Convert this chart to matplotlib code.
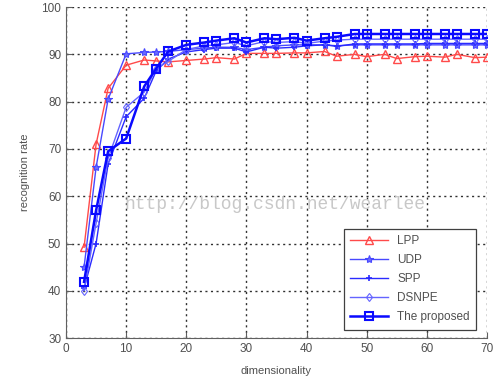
import matplotlib
matplotlib.use('Agg')
import matplotlib.pyplot as plt

###########                 Data                 ###########
#----------------------------------------------------------#
dims = [3, 5, 7, 10, 13, 15, 17, 20, 23, 25, 28, 30, 33, 35,
        38, 40, 43, 45, 48, 50, 53, 55, 58, 60, 63, 65, 68, 70]

lpp = [49.2, 71.0, 82.8, 87.7, 88.8, 88.6, 88.4, 88.7, 89.0, 89.3, 89.0, 90.2, 90.2, 90.2,
       90.3, 90.3, 90.6, 89.6, 90.0, 89.5, 90.0, 89.1, 89.5, 89.6, 89.4, 90.0, 89.3, 89.4]
udp = [45.0, 66.1, 80.5, 90.1, 90.4, 90.5, 90.6, 91.0, 91.3, 91.5, 91.5, 91.0, 91.5, 91.8,
       92.0, 92.0, 92.0, 91.8, 92.0, 92.0, 92.0, 92.0, 92.0, 92.0, 92.0, 92.0, 92.0, 92.0]
spp = [40.5, 50.0, 66.8, 76.8, 80.7, 86.5, 89.0, 90.5, 91.0, 91.3, 91.3, 90.5, 91.5, 91.3,
       91.5, 91.8, 92.0, 91.7, 92.2, 92.2, 92.2, 92.2, 92.2, 92.3, 92.3, 92.3, 92.3, 92.3]
dsnpe = [40.0, 54.3, 68.0, 78.8, 82.0, 87.0, 88.5, 91.0, 91.8, 92.0, 92.5, 91.8, 92.7, 92.5,
         92.7, 92.3, 92.8, 93.0, 93.2, 93.2, 93.2, 93.2, 93.2, 93.2, 93.2, 93.2, 93.2, 93.2]
proposed = [41.9, 57.0, 69.5, 72.2, 83.2, 87.0, 90.6, 92.0, 92.5, 92.9, 93.4, 92.5, 93.4, 93.2,
            93.5, 92.9, 93.4, 93.7, 94.3, 94.3, 94.3, 94.3, 94.3, 94.3, 94.3, 94.3, 94.3, 94.3]

xticks = [0, 10, 20, 30, 40, 50, 60, 70]
yticks = [30, 40, 50, 60, 70, 80, 90, 100]

###########               Settings               ###########
#----------------------------------------------------------#
plt.rcParams['font.family'] = ['Liberation Sans', 'DejaVu Sans']
txt = '#505050'

fig = plt.figure(figsize=(5.04, 3.9), dpi=100)
ax = fig.add_axes([0.131, 0.133, 0.835, 0.849])

ax.plot(dims, lpp, color='#ff4a4a', lw=1.0, marker='^', ms=5.5, mfc='none', mew=1.0, label='LPP')
ax.plot(dims, udp, color='#4848ff', lw=1.0, marker='*', ms=6, mfc='#6a6aff', mew=0.8, label='UDP')
ax.plot(dims, spp, color='#2a2aff', lw=1.0, marker='+', ms=5, mew=1.2, label='SPP')
ax.plot(dims, dsnpe, color='#6464ff', lw=1.0, marker='d', ms=4.5, mfc='none', mew=0.8, label='DSNPE')
ax.plot(dims, proposed, color='#0a0aff', lw=1.8, marker='s', ms=6, mfc='none', mew=1.5, label='The proposed')

ax.set_xlim(0, 70)
ax.set_ylim(30, 100)
ax.set_xticks(xticks)
ax.set_yticks(yticks)
ax.grid(color='#303030', linestyle=(0, (1.5, 2.5)), linewidth=1.0)
ax.tick_params(direction='in', length=4, labelsize=8.5, colors='#606060', labelcolor=txt)

for side in ['top', 'right']:
    ax.spines[side].set_visible(False)
for side in ['left', 'bottom']:
    ax.spines[side].set_color('#606060')

ax.set_xlabel('dimensionality', fontsize=8, color=txt, labelpad=8)
ax.set_ylabel('recognition rate', fontsize=8, color=txt, labelpad=8)

leg = ax.legend(loc='lower right', bbox_to_anchor=(0.975, 0.025), fontsize=8.5,
                fancybox=False, framealpha=1, edgecolor='#404040', handlelength=3.2,
                borderaxespad=0, labelspacing=0.6, borderpad=0.55)
leg.get_frame().set_linewidth(0.9)
for t in leg.get_texts():
    t.set_color(txt)

# watermark
fig.text(0.546, 0.475, 'http://blog.csdn.net/wearlee', fontsize=13, color='#c8c8c8',
         family='Liberation Mono', ha='center', va='center')

fig.savefig('out.png', dpi=100)
